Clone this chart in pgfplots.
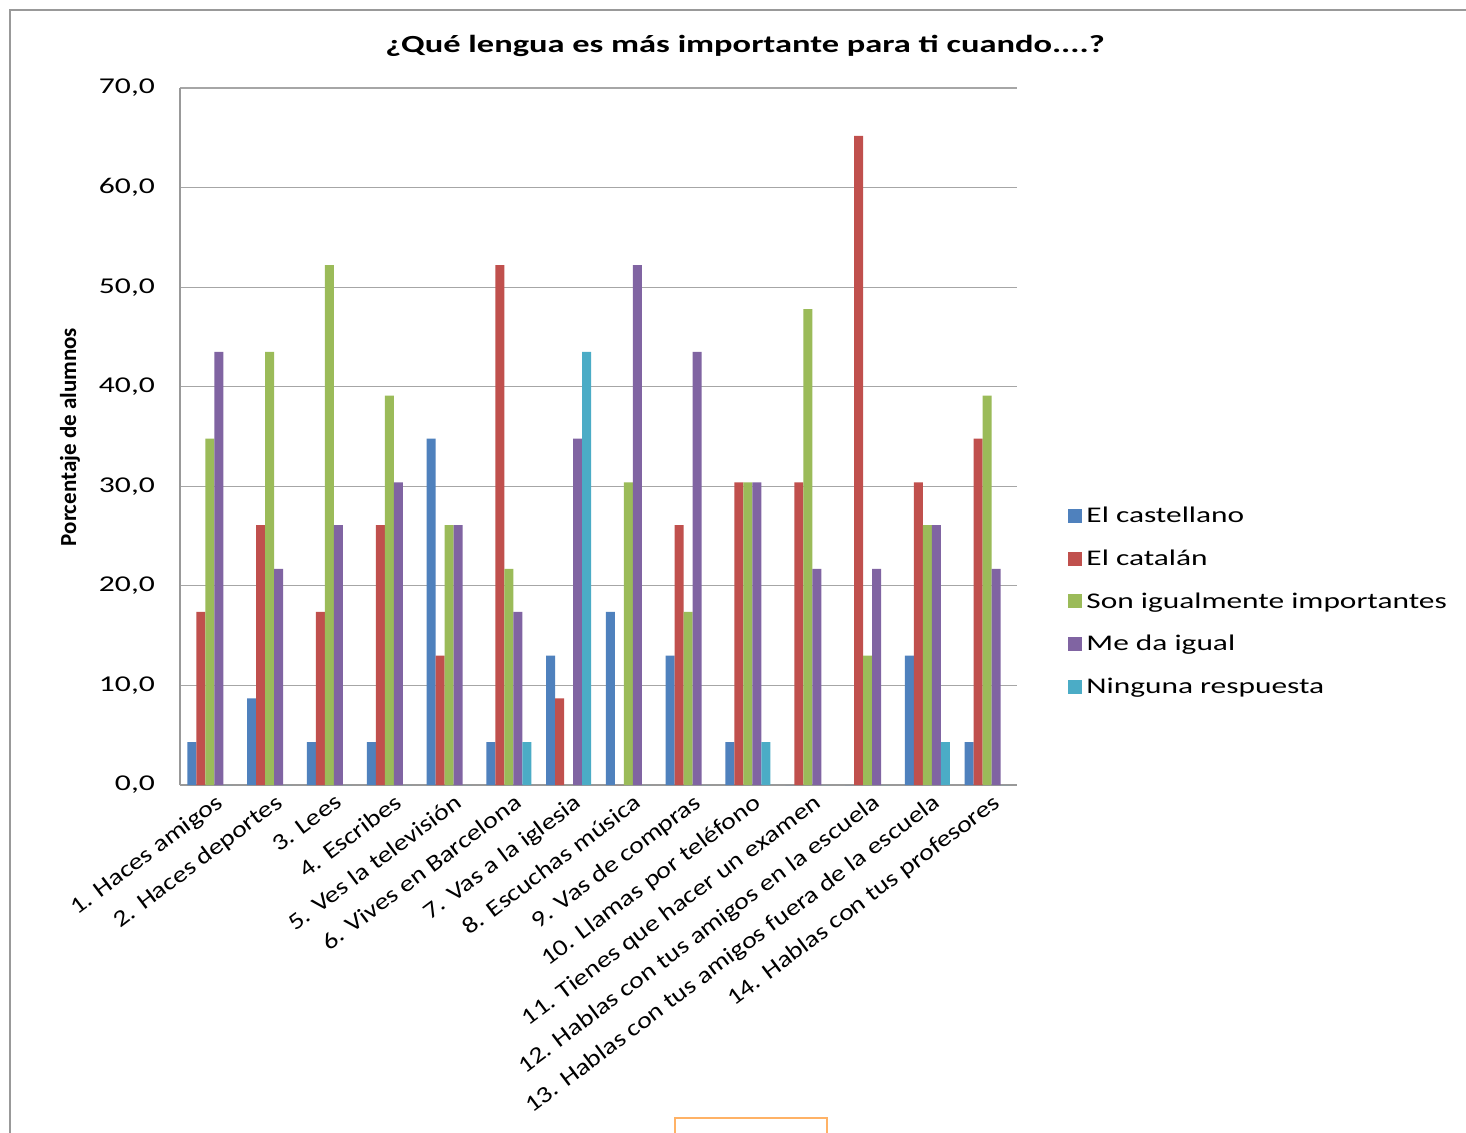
\documentclass[border=0pt]{standalone}
\usepackage{fontspec}
\setmainfont{Carlito}[FakeStretch=1.4]
\newfontfamily\plainfont{Carlito}
\newfontfamily\xlfont{Carlito}[FakeStretch=1.2]
\usepackage{pgfplots}
\pgfplotsset{compat=1.18}
\definecolor{cB}{HTML}{4F81BD}
\definecolor{cR}{HTML}{C0504D}
\definecolor{cG}{HTML}{9BBB59}
\definecolor{cP}{HTML}{8064A2}
\definecolor{cC}{HTML}{4BACC6}
\begin{document}
\begin{tikzpicture}
\useasboundingbox (0,0) rectangle (733pt,-566.5pt);
\fill[white] (0,0) rectangle (733pt,-566.5pt);
\draw[gray!80, line width=1pt] (5pt,-566.5pt) -- (5pt,-5pt) -- (733pt,-5pt);
\draw[orange!60, line width=0.8pt] (337.5pt,-566.5pt) -- (337.5pt,-559pt) -- (413.5pt,-559pt) -- (413.5pt,-566.5pt);
\node[font=\fontsize{12.3}{14}\selectfont\bfseries] at (372.5pt,-23pt) {¿Qué lengua es más importante para ti cuando....?};
\node[rotate=90, font=\plainfont\fontsize{11.5}{13}\selectfont\bfseries] at (35pt,-218.5pt) {Porcentaje de alumnos};
\begin{axis}[
  at={(90pt,-392.5pt)}, anchor=south west,
  scale only axis, width=418.5pt, height=348.5pt,
  ybar=0pt, bar width=4.5pt,
  xmin=-0.5, xmax=13.5, ymin=0, ymax=70,
  ytick={0,10,...,70},
  axis lines*=left,
  axis line style={gray!80, line width=0.8pt},
  ymajorgrids, grid style={gray!70, line width=0.6pt},
  major tick length=4pt,
  ytick style={gray!70, line width=0.6pt},
  xtick style={draw=none},
  yticklabel style={font=\fontsize{11.3}{13}\selectfont, xshift=-9pt, /pgf/number format/.cd, fixed, fixed zerofill, precision=1, use comma, assume math mode=true},
  xtick=data,
  xticklabels={1. Haces amigos, 2. Haces deportes, 3. Lees, 4. Escribes, 5. Ves la televisión, 6. Vives en Barcelona, 7. Vas a la iglesia, 8. Escuchas música, 9. Vas de compras, 10. Llamas por teléfono, 11. Tienes que hacer un examen, 12. Hablas con tus amigos en la escuela, 13. Hablas con tus amigos fuera de la escuela, 14. Hablas con tus profesores},
  xticklabel style={font=\xlfont\fontsize{11.6}{13}\selectfont, rotate=37, anchor=north east, inner sep=1pt, xshift=3pt},
  legend style={at={(1.061,0.405)}, anchor=north west, draw=none, fill=none, font=\fontsize{11.2}{13}\selectfont, row sep=8.1pt, inner sep=0pt},
  legend cell align=left,
  legend image code/.code={\fill[#1] (0pt,-3.2pt) rectangle (7pt,3.8pt);},
]
\addplot[fill=cB, draw=none] coordinates {(0,4.3) (1,8.7) (2,4.3) (3,4.3) (4,34.8) (5,4.3) (6,13.0) (7,17.4) (8,13.0) (9,4.3) (10,0) (11,0) (12,13.0) (13,4.3)};
\addplot[fill=cR, draw=none] coordinates {(0,17.4) (1,26.1) (2,17.4) (3,26.1) (4,13.0) (5,52.2) (6,8.7) (7,0) (8,26.1) (9,30.4) (10,30.4) (11,65.2) (12,30.4) (13,34.8)};
\addplot[fill=cG, draw=none] coordinates {(0,34.8) (1,43.5) (2,52.2) (3,39.1) (4,26.1) (5,21.7) (6,0) (7,30.4) (8,17.4) (9,30.4) (10,47.8) (11,13.0) (12,26.1) (13,39.1)};
\addplot[fill=cP, draw=none] coordinates {(0,43.5) (1,21.7) (2,26.1) (3,30.4) (4,26.1) (5,17.4) (6,34.8) (7,52.2) (8,43.5) (9,30.4) (10,21.7) (11,21.7) (12,26.1) (13,21.7)};
\addplot[fill=cC, draw=none] coordinates {(0,0) (1,0) (2,0) (3,0) (4,0) (5,4.3) (6,43.5) (7,0) (8,0) (9,4.3) (10,0) (11,0) (12,4.3) (13,0)};
\legend{El castellano, El catalán, Son igualmente importantes, Me da igual, Ninguna respuesta}
\end{axis}
\end{tikzpicture}
\end{document}
